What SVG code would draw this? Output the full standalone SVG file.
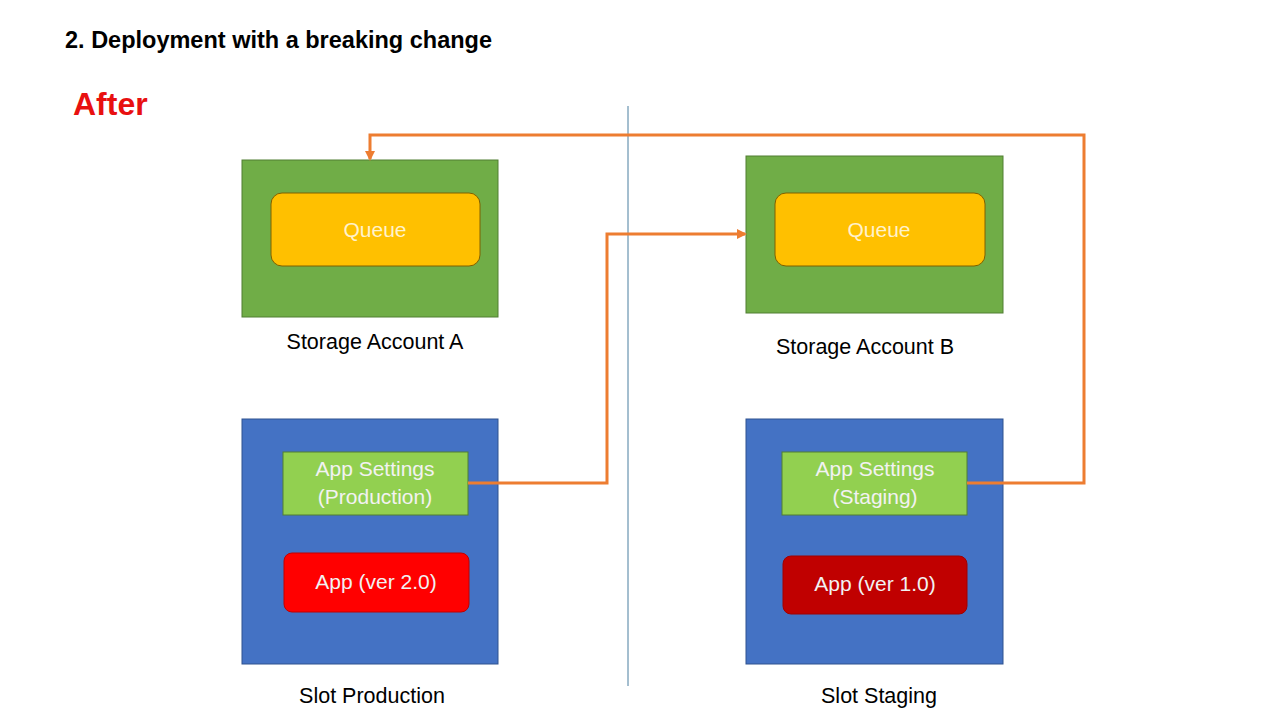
<svg xmlns="http://www.w3.org/2000/svg" width="1280" height="720" viewBox="0 0 1280 720">
<defs>
<style>
.t{font-family:"Liberation Sans",Arial,sans-serif}
.lbl{font-size:21.5px;fill:#000;text-anchor:middle}
.in{font-size:21px;fill:#F2F2F2;text-anchor:middle}
.q{font-size:21px;fill:#FFF2CC;text-anchor:middle}
.store{fill:#70AD47;stroke:#507E32;stroke-width:1}
.queue{fill:#FFC000;stroke:#7F6000;stroke-width:1}
.slot{fill:#4472C4;stroke:#2F528F;stroke-width:1}
.set{fill:#92D050;stroke:#507E32;stroke-width:1}
.conn{fill:none;stroke:#ED7D31;stroke-width:3}
</style>
<marker id="arr" markerWidth="10" markerHeight="10" refX="8" refY="5" orient="auto" markerUnits="userSpaceOnUse">
<path d="M0,0 L10,5 L0,10 Z" fill="#ED7D31"/>
</marker>
</defs>
<rect width="1280" height="720" fill="#FFFFFF"/>
<text class="t" x="65" y="48" font-size="23.5" font-weight="bold" fill="#000">2. Deployment with a breaking change</text>
<text class="t" x="73" y="115" font-size="32" font-weight="bold" fill="#E81010">After</text>
<line x1="628" y1="106" x2="628" y2="686" stroke="#4A7EA0" stroke-width="1"/>

<g id="storageA">
<rect class="store" x="242" y="160" width="256" height="157"/>
<rect class="queue" x="271" y="193" width="209" height="73" rx="11"/>
<text class="t q" x="375" y="237">Queue</text>
<text class="t lbl" x="375" y="349">Storage Account A</text>
</g>
<g id="storageB">
<rect class="store" x="746" y="156" width="257" height="157"/>
<rect class="queue" x="775" y="193" width="210" height="73" rx="11"/>
<text class="t q" x="879" y="237">Queue</text>
<text class="t lbl" x="865" y="354">Storage Account B</text>
</g>
<g id="slotProduction">
<rect class="slot" x="242" y="419" width="256" height="245"/>
<rect class="set" x="283" y="452" width="185" height="63"/>
<text class="t in" x="375" y="476">App Settings</text>
<text class="t in" x="375" y="504">(Production)</text>
<rect x="284" y="553" width="185" height="59" rx="8" fill="#FF0000" stroke="#C00000" stroke-width="1"/>
<text class="t in" x="376" y="589">App (ver 2.0)</text>
<text class="t lbl" x="372" y="703">Slot Production</text>
</g>
<g id="slotStaging">
<rect class="slot" x="746" y="419" width="257" height="245"/>
<rect class="set" x="782" y="452" width="185" height="63"/>
<text class="t in" x="875" y="476">App Settings</text>
<text class="t in" x="875" y="504">(Staging)</text>
<rect x="783" y="556" width="184" height="58" rx="8" fill="#C00000" stroke="#A00000" stroke-width="1"/>
<text class="t in" x="875" y="591">App (ver 1.0)</text>
<text class="t lbl" x="879" y="703">Slot Staging</text>
</g>
<g id="connectors">
<path class="conn" d="M468,483 H607 V234 H745" marker-end="url(#arr)"/>
<path class="conn" d="M967,483 H1084 V135 H370 V159" marker-end="url(#arr)"/>
</g>
</svg>
